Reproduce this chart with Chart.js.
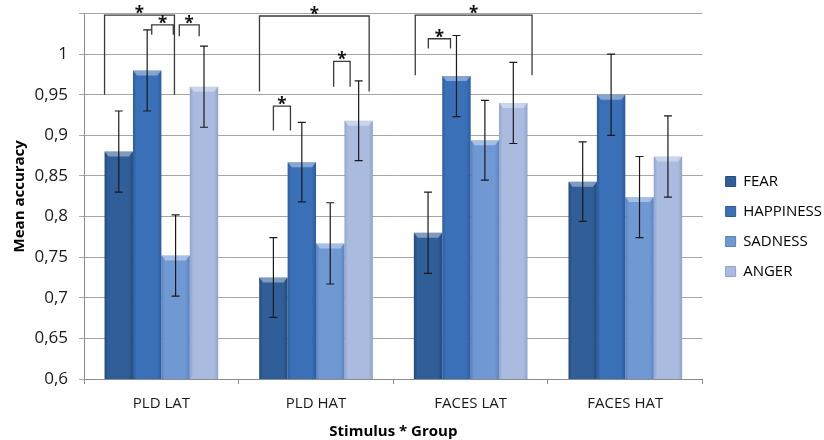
<!DOCTYPE html>
<html>
<head>
<meta charset="utf-8">
<script src="https://cdn.jsdelivr.net/npm/chart.js@4.4.1/dist/chart.umd.min.js"></script>
<style>
  html, body { margin: 0; padding: 0; background: #fff; }
  #wrap { width: 824px; height: 440px; }
</style>
</head>
<body>
<div id="wrap"><canvas id="myChart" width="824" height="440"></canvas></div>
<script>
// categories and series
const groups = ["PLD LAT", "PLD HAT", "FACES LAT", "FACES HAT"];
const emotions = ["FEAR", "HAPPINESS", "SADNESS", "ANGER"];

const fear = [0.88, 0.725, 0.78, 0.843];
const happiness = [0.98, 0.867, 0.973, 0.95];
const sadness = [0.752, 0.767, 0.894, 0.824];
const anger = [0.96, 0.918, 0.94, 0.874];

// half width of the error bars
const fearErr = [0.05, 0.049, 0.05, 0.049];
const happinessErr = [0.05, 0.049, 0.05, 0.05];
const sadnessErr = [0.05, 0.05, 0.049, 0.05];
const angerErr = [0.05, 0.049, 0.05, 0.05];

// y ticks
const yMin = 0.6;
const yMax = 1.05;
const yStep = 0.05;

// significance brackets: group, from bar slot, to bar slot, top value, left leg end, right leg end
const brackets = [
  [0, -0.5, 1.96, 1.048, 0.95, 0.95],
  [0, 1.16, 1.92, 1.036, 1.024, 1.024],
  [0, 2.13, 2.83, 1.036, 1.022, 1.022],
  [1, -0.49, 3.37, 1.047, 0.954, 0.954],
  [1, 0.0, 0.6, 0.936, 0.906, 0.906],
  [1, 2.12, 2.7, 0.991, 0.96, 0.96],
  [2, -0.45, 3.66, 1.048, 0.974, 0.974],
  [2, 0.01, 0.79, 1.019, 1.007, 1.007]
];

const baseColors = ["#2F5E99", "#3A70B8", "#7098D3", "#AABBDF"];
const edgeColors = ["#234A7C", "#2C5C9C", "#5A82BE", "#8FA3CC"];
const catPct = 0.735;

function barFill(ctx) {
  const chart = ctx.chart;
  const xs = chart.scales.x;
  if (ctx.type !== "data" || !xs || !xs.width) return baseColors[ctx.datasetIndex];
  const cw = xs.width / groups.length;
  const bw = (cw * catPct) / emotions.length;
  const left = xs.getPixelForValue(ctx.dataIndex) - (cw * catPct) / 2 + ctx.datasetIndex * bw;
  const g = chart.ctx.createLinearGradient(left, 0, left + bw, 0);
  g.addColorStop(0, edgeColors[ctx.datasetIndex]);
  g.addColorStop(0.12, baseColors[ctx.datasetIndex]);
  g.addColorStop(0.85, baseColors[ctx.datasetIndex]);
  g.addColorStop(1, edgeColors[ctx.datasetIndex]);
  return g;
}

const series = [fear, happiness, sadness, anger];
const errors = [fearErr, happinessErr, sadnessErr, angerErr];

const extras = {
  id: "extras",
  afterLayout(chart) {
    // nudge legend like the original
    chart.legend.left += 8;
    chart.legend.right += 8;
    chart.legend.top += 7;
    chart.legend.bottom += 7;
  },
  afterDatasetsDraw(chart) {
    const ctx = chart.ctx;
    const y = chart.scales.y;
    ctx.save();
    // bevel highlight on top of bars
    series.forEach((s, d) => {
      chart.getDatasetMeta(d).data.forEach((bar) => {
        const l = bar.x - bar.width / 2, r = bar.x + bar.width / 2;
        ctx.fillStyle = "rgba(255,255,255,0.38)";
        ctx.beginPath();
        ctx.moveTo(l, bar.y);
        ctx.lineTo(r, bar.y);
        ctx.lineTo(r - 4, bar.y + 5);
        ctx.lineTo(l + 4, bar.y + 5);
        ctx.closePath();
        ctx.fill();
      });
    });
    // error bars
    ctx.strokeStyle = "#1a1a1a";
    ctx.lineWidth = 1.2;
    series.forEach((s, d) => {
      chart.getDatasetMeta(d).data.forEach((bar, i) => {
        const hi = y.getPixelForValue(s[i] + errors[d][i]);
        const lo = y.getPixelForValue(s[i] - errors[d][i]);
        ctx.beginPath();
        ctx.moveTo(bar.x, hi); ctx.lineTo(bar.x, lo);
        ctx.moveTo(bar.x - 4, hi); ctx.lineTo(bar.x + 4, hi);
        ctx.moveTo(bar.x - 4, lo); ctx.lineTo(bar.x + 4, lo);
        ctx.stroke();
      });
    });
    // significance brackets
    ctx.strokeStyle = "#3a3a3a";
    ctx.lineWidth = 1.3;
    ctx.fillStyle = "#111";
    ctx.font = "bold 17px 'Open Sans'";
    ctx.textAlign = "center";
    ctx.textBaseline = "alphabetic";
    brackets.forEach(([g, a, b, top, le, re]) => {
      const bar0 = chart.getDatasetMeta(0).data[g];
      const bw = bar0.width;
      const gl = bar0.x - bw / 2;
      const xa = gl + (a + 0.5) * bw;
      const xb = gl + (b + 0.5) * bw;
      const yt = y.getPixelForValue(top);
      ctx.beginPath();
      ctx.moveTo(xa, y.getPixelForValue(le));
      ctx.lineTo(xa, yt);
      ctx.lineTo(xb, yt);
      ctx.lineTo(xb, y.getPixelForValue(re));
      ctx.stroke();
      ctx.fillText("*", (xa + xb) / 2, yt + 4);
    });
    ctx.restore();
  }
};

const ctx = document.getElementById("myChart").getContext("2d");
const myChart = new Chart(ctx, {
  type: "bar",
  data: {
    labels: groups,
    datasets: emotions.map((name, d) => ({
      label: name,
      data: series[d],
      backgroundColor: barFill,
      borderWidth: 0,
      barPercentage: 1,
      categoryPercentage: catPct
    }))
  },
  options: {
    responsive: false,
    animation: false,
    layout: { padding: { left: 4, right: 0, top: 0, bottom: 1 } },
    plugins: {
      tooltip: { enabled: false },
      legend: {
        position: "right",
        labels: {
          boxWidth: 10,
          boxHeight: 10,
          padding: 15,
          color: "#1a1a1a",
          font: { family: "Open Sans", size: 15 },
          generateLabels: (chart) => emotions.map((name, d) => ({
            text: name,
            fillStyle: baseColors[d],
            strokeStyle: edgeColors[d],
            lineWidth: 1,
            datasetIndex: d
          }))
        }
      }
    },
    scales: {
      x: {
        grid: { drawOnChartArea: false, offset: true, tickLength: 5, color: "#8c8c8c" },
        border: { color: "#8c8c8c" },
        ticks: { color: "#1a1a1a", padding: 11, font: { family: "Open Sans", size: 15 } },
        title: {
          display: true,
          text: "Stimulus * Group",
          color: "#000",
          padding: { top: 0, bottom: 0 },
          font: { family: "Open Sans", size: 15, weight: "bold", lineHeight: 1.0 }
        }
      },
      y: {
        min: yMin,
        max: yMax,
        grid: { color: "#a6a6a6", tickLength: 5 },
        border: { color: "#8c8c8c" },
        ticks: {
          stepSize: yStep,
          color: "#1a1a1a",
          padding: 11,
          font: { family: "Open Sans", size: 17, lineHeight: 0.3 },
          callback: (v) => (v > 1.01 ? "" : String(+v.toFixed(2)).replace(".", ","))
        },
        title: {
          display: true,
          text: "Mean accuracy",
          color: "#000",
          padding: { top: 12, bottom: 0 },
          font: { family: "Open Sans", size: 15, weight: "bold", lineHeight: 0.5 }
        }
      }
    }
  },
  plugins: [extras]
});
</script>
</body>
</html>
